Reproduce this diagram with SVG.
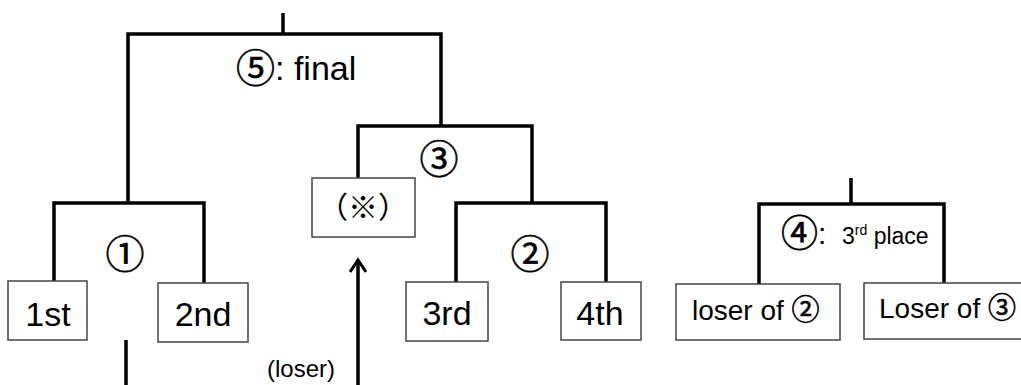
<svg xmlns="http://www.w3.org/2000/svg" width="1021" height="385" viewBox="0 0 1021 385">
<style>
.box{fill:#fff;stroke:#444;stroke-width:1.5}
.ln{fill:none;stroke:#000;stroke-width:3.5;stroke-linejoin:miter;stroke-linecap:butt}
.t{font-family:"Liberation Sans","Noto Sans CJK JP",sans-serif;fill:#000}
.c{font-family:"Noto Sans CJK JP","Liberation Sans",sans-serif;fill:#000}
.num{font-family:"Noto Sans CJK JP","DejaVu Sans",sans-serif;fill:#000;stroke:#000;stroke-width:0.6}
</style>
<defs>
<marker id="arr" viewBox="0 0 20 20" refX="15" refY="10" markerWidth="20" markerHeight="20" markerUnits="userSpaceOnUse" orient="auto">
<path d="M3 2 L15 10 L3 18" fill="none" stroke="#000" stroke-width="3"/>
</marker>
</defs>
<rect width="1021" height="385" fill="#fff"/>
<g id="connectors">
<path class="ln" d="M283 13 V34"/>
<path class="ln" d="M128 203 V34 H441 V126"/>
<path class="ln" d="M54 281 V203 H204 V283"/>
<path class="ln" d="M358 178 V126 H532 V203"/>
<path class="ln" d="M456 282 V203 H606 V282"/>
<path class="ln" d="M126 340 V385"/>
<path class="ln" d="M358 385 V260" stroke-width="3" marker-end="url(#arr)"/>
<path class="ln" d="M851 178 V204"/>
<path class="ln" d="M759 284 V204 H944 V284"/>
</g>
<g id="node-1st"><rect class="box" x="8" y="281" width="79" height="59"/><text class="t" x="48" y="326" font-size="34" text-anchor="middle">1st</text></g>
<g id="node-2nd"><rect class="box" x="158" y="283" width="90" height="59"/><text class="t" x="203" y="326" font-size="34" text-anchor="middle">2nd</text></g>
<g id="node-kome"><rect class="box" x="312" y="178" width="103" height="59"/><text class="c" x="363" y="218" font-size="30" text-anchor="middle">（※）</text></g>
<g id="node-3rd"><rect class="box" x="406" y="282" width="82" height="59"/><text class="t" x="447" y="325" font-size="34" text-anchor="middle">3rd</text></g>
<g id="node-4th"><rect class="box" x="561" y="282" width="80" height="58"/><text class="t" x="600" y="325" font-size="34" text-anchor="middle">4th</text></g>
<g id="node-loser2"><rect class="box" x="676" y="284" width="164" height="56"/><text class="t" x="692" y="320" font-size="28">loser of <tspan class="num" stroke-width="0.4">②</tspan></text></g>
<g id="node-loser3"><rect class="box" x="864" y="283" width="170" height="56"/><text class="t" x="879" y="318" font-size="28">Loser of <tspan class="num" stroke-width="0.4">③</tspan></text></g>
<g id="label-final"><text class="t" x="236" y="80" font-size="34"><tspan class="num" font-size="39" dy="2">⑤</tspan><tspan dy="-2">: final</tspan></text></g>
<g id="label-m1"><text class="num" x="125" y="268" font-size="39" text-anchor="middle">①</text></g>
<g id="label-m2"><text class="num" x="530" y="268" font-size="39" text-anchor="middle">②</text></g>
<g id="label-m3"><text class="num" x="439" y="173" font-size="39" text-anchor="middle">③</text></g>
<g id="label-m4"><text class="t" x="781" y="244"><tspan class="num" font-size="37" dy="3">④</tspan><tspan font-size="30" dy="-3">:</tspan><tspan x="842" font-size="23">3</tspan><tspan font-size="14" dy="-9">rd</tspan><tspan font-size="23" dy="9"> place</tspan></text></g>
<g id="label-loser"><text class="t" x="267" y="377" font-size="24">(loser)</text></g>
</svg>
